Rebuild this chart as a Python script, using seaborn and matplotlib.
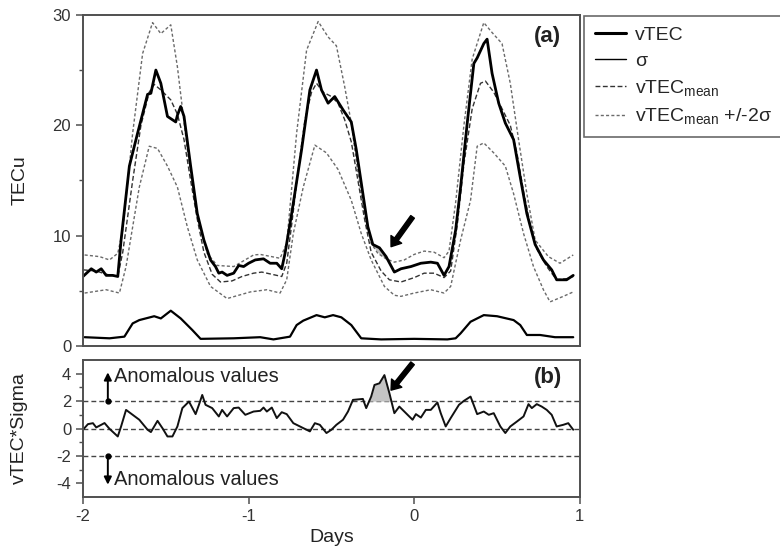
import numpy as np
import matplotlib
matplotlib.use("Agg")
import matplotlib.pyplot as plt
from matplotlib.lines import Line2D
import seaborn as sns

# values (x in days)
vtec_days = [-2.0, -1.95, -1.92, -1.89, -1.86, -1.82, -1.79, -1.77, -1.72, -1.67,
             -1.61, -1.59, -1.56, -1.53, -1.49, -1.44, -1.43, -1.41, -1.39, -1.35,
             -1.31, -1.27, -1.23, -1.20, -1.18, -1.16, -1.13, -1.09, -1.06, -1.03,
             -1.00, -0.96, -0.91, -0.87, -0.83, -0.80, -0.78, -0.74, -0.68, -0.63,
             -0.59, -0.56, -0.52, -0.48, -0.43, -0.38, -0.35, -0.31, -0.28, -0.25,
             -0.21, -0.17, -0.12, -0.08, -0.02, 0.04, 0.10, 0.14, 0.18, 0.21,
             0.25, 0.28, 0.32, 0.36, 0.38, 0.42, 0.44, 0.47, 0.51, 0.55,
             0.60, 0.64, 0.68, 0.73, 0.78, 0.83, 0.86, 0.92, 0.96]
vtec = [6.3, 7.0, 6.7, 7.0, 6.4, 6.4, 6.3, 9.6, 16.3, 19.3,
        22.8, 22.9, 25.0, 23.8, 20.8, 20.3, 20.9, 21.7, 20.8, 16.3,
        12.0, 9.6, 7.8, 7.2, 6.6, 6.7, 6.4, 6.6, 7.3, 7.2,
        7.5, 7.8, 7.9, 7.5, 7.5, 7.0, 8.4, 12.0, 17.8, 23.2,
        25.0, 23.2, 22.0, 22.6, 21.4, 20.3, 17.8, 13.8, 10.8, 9.2,
        8.9, 8.1, 6.7, 7.0, 7.2, 7.5, 7.6, 7.5, 6.4, 7.2,
        10.5, 14.4, 20.2, 25.6, 26.1, 27.4, 27.8, 24.7, 22.0, 20.2,
        18.7, 15.3, 12.0, 9.2, 7.8, 6.9, 6.0, 6.0, 6.4]

mean_days = [-2.0, -1.92, -1.86, -1.79, -1.76, -1.70, -1.65, -1.60, -1.57, -1.53,
             -1.47, -1.43, -1.39, -1.35, -1.31, -1.27, -1.22, -1.17, -1.10, -1.04,
             -0.97, -0.92, -0.86, -0.80, -0.77, -0.74, -0.70, -0.66, -0.62, -0.59,
             -0.55, -0.50, -0.46, -0.42, -0.38, -0.34, -0.30, -0.26, -0.20, -0.15,
             -0.08, 0.0, 0.06, 0.12, 0.18, 0.22, 0.26, 0.30, 0.35, 0.40,
             0.43, 0.48, 0.53, 0.58, 0.62, 0.66, 0.70, 0.74, 0.80, 0.86,
             0.92, 0.96]
vtec_mean = [6.9, 6.8, 6.5, 6.3, 8.5, 15.0, 20.0, 23.0, 23.7, 23.2,
             22.3, 21.0, 18.7, 15.0, 11.5, 8.5, 6.5, 5.8, 5.9, 6.3,
             6.6, 6.7, 6.5, 6.3, 7.5, 11.0, 16.0, 20.5, 23.0, 23.8,
             23.0, 22.6, 22.0, 20.5, 18.5, 15.0, 11.5, 8.5, 6.8, 6.0,
             5.8, 6.2, 6.6, 6.6, 6.2, 6.8, 11.0, 16.5, 21.5, 23.8,
             24.0, 23.0, 21.5, 20.0, 17.5, 14.0, 11.0, 8.8, 7.2, 6.0,
             6.1, 6.3]

upper_days = [-1.99, -1.90, -1.84, -1.79, -1.76, -1.70, -1.64, -1.58, -1.53, -1.47,
              -1.43, -1.37, -1.31, -1.25, -1.19, -1.09, -0.97, -0.93, -0.81, -0.77,
              -0.71, -0.65, -0.58, -0.52, -0.47, -0.42, -0.38, -0.34, -0.30, -0.26,
              -0.22, -0.17, -0.12, -0.06, 0.0, 0.06, 0.12, 0.18, 0.21, 0.25,
              0.30, 0.35, 0.42, 0.47, 0.53, 0.58, 0.63, 0.68, 0.73, 0.81,
              0.88, 0.96]
upper = [8.25, 8.1, 7.8, 8.4, 10.5, 19.3, 26.5, 29.3, 28.3, 29.1,
         25.3, 17.8, 11.7, 8.4, 7.3, 7.2, 8.25, 8.3, 7.95, 9.3,
         19.3, 26.8, 29.4, 28.0, 27.2, 23.5, 20.2, 15.7, 12.0, 9.3,
         8.4, 7.9, 7.6, 7.8, 8.3, 8.6, 8.5, 8.0, 8.6, 13.0,
         20.0, 26.0, 29.3, 28.4, 27.4, 23.8, 18.7, 13.8, 9.6, 8.1,
         7.5, 8.25]

lower_days = [-1.99, -1.86, -1.78, -1.74, -1.70, -1.66, -1.60, -1.55, -1.49, -1.43,
              -1.37, -1.31, -1.23, -1.13, -0.99, -0.89, -0.81, -0.77, -0.73, -0.67,
              -0.60, -0.53, -0.46, -0.38, -0.32, -0.26, -0.18, -0.12, -0.08, 0.0,
              0.10, 0.18, 0.22, 0.28, 0.34, 0.38, 0.42, 0.48, 0.55, 0.60,
              0.66, 0.72, 0.78, 0.82, 0.90, 0.96]
lower = [4.8, 5.1, 4.8, 7.2, 10.8, 14.4, 18.1, 17.9, 16.3, 14.4,
         10.8, 7.8, 5.4, 4.3, 4.9, 5.1, 4.8, 6.0, 10.2, 14.4,
         18.2, 17.5, 16.0, 13.2, 10.2, 7.8, 5.4, 4.6, 4.5, 4.8,
         5.1, 4.8, 5.4, 9.6, 13.2, 18.1, 18.4, 17.5, 16.3, 13.8,
         10.2, 7.2, 5.1, 4.0, 4.5, 4.9]

sigma_days = [-1.99, -1.84, -1.75, -1.70, -1.66, -1.57, -1.53, -1.47, -1.41, -1.34,
              -1.29, -1.09, -0.93, -0.85, -0.75, -0.71, -0.67, -0.59, -0.54, -0.49,
              -0.44, -0.38, -0.32, -0.2, 0.0, 0.2, 0.25, 0.28, 0.34, 0.42,
              0.50, 0.60, 0.64, 0.68, 0.76, 0.85, 0.96]
sigma = [0.8, 0.7, 0.85, 2.05, 2.35, 2.7, 2.5, 3.2, 2.5, 1.45,
         0.65, 0.7, 0.8, 0.6, 0.85, 1.9, 2.3, 2.8, 2.6, 2.8,
         2.6, 1.9, 0.7, 0.6, 0.65, 0.6, 0.7, 1.15, 2.2, 2.8,
         2.7, 2.35, 1.9, 1.0, 1.0, 0.8, 0.8]

ratio_days = [-2.0, -1.97, -1.94, -1.92, -1.89, -1.87, -1.84, -1.79, -1.77, -1.74,
              -1.70, -1.66, -1.61, -1.59, -1.55, -1.52, -1.49, -1.46, -1.43, -1.40,
              -1.36, -1.32, -1.30, -1.28, -1.26, -1.22, -1.18, -1.16, -1.13, -1.09,
              -1.06, -1.02, -0.97, -0.93, -0.91, -0.89, -0.86, -0.83, -0.80, -0.77,
              -0.73, -0.69, -0.63, -0.60, -0.57, -0.53, -0.50, -0.47, -0.43, -0.40,
              -0.37, -0.31, -0.29, -0.26, -0.24, -0.21, -0.18, -0.15, -0.12, -0.09,
              -0.05, -0.01, 0.01, 0.04, 0.07, 0.10, 0.14, 0.16, 0.19, 0.22,
              0.27, 0.30, 0.34, 0.38, 0.42, 0.45, 0.48, 0.52, 0.55, 0.58,
              0.62, 0.66, 0.69, 0.71, 0.74, 0.77, 0.80, 0.83, 0.86, 0.90,
              0.93, 0.96]
ratio = [-0.09, 0.32, 0.39, 0.08, 0.27, 0.4, -0.02, -0.58, 0.15, 1.36,
         1.0, 0.64, -0.09, -0.26, 0.56, 0.02, -0.58, -0.58, 0.15, 1.49,
         1.97, 1.05, 1.73, 2.45, 1.73, 1.49, 0.88, 1.36, 0.88, 1.49,
         1.53, 1.0, 1.24, 1.29, 1.53, 1.24, 1.53, 0.76, 1.19, 1.05,
         0.39, 0.15, -0.21, 0.39, 0.27, -0.33, -0.09, 0.27, 0.64, 1.24,
         2.09, 2.16, 1.49, 2.33, 3.18, 3.3, 3.9, 2.58, 1.12, 1.6,
         1.12, 0.64, 1.05, 0.8, 1.36, 1.36, 1.9, 1.12, 0.15, 0.76,
         1.73, 2.02, 2.33, 1.05, 1.24, 1.0, 1.12, 0.15, -0.33, 0.15,
         0.51, 0.88, 1.78, 1.49, 1.78, 1.6, 1.36, 1.0, 0.15, 0.27,
         0.39, -0.09]

thresholds = [2, 0, -2]
anomaly_window = (-0.3, -0.1)

sns.set_style("ticks")
plt.rcParams['font.family'] = ['Liberation Sans', 'DejaVu Sans']
plt.rcParams['mathtext.fontset'] = 'custom'
plt.rcParams['mathtext.rm'] = 'Liberation Sans'
plt.rcParams['mathtext.it'] = 'Liberation Sans'
plt.rcParams['axes.unicode_minus'] = False

spine_col = '#505050'
band_col = '#6a6a6a'

fig = plt.figure(figsize=(7.8, 5.51), dpi=100)
ax1 = fig.add_axes([0.1064, 0.372, 0.637, 0.601])
ax2 = fig.add_axes([0.1064, 0.098, 0.637, 0.2486])

# --- panel (a)
sns.lineplot(x=upper_days, y=upper, ax=ax1, color=band_col, lw=1.0)
ax1.lines[-1].set_dashes((2.2, 1.6))
sns.lineplot(x=lower_days, y=lower, ax=ax1, color=band_col, lw=1.0)
ax1.lines[-1].set_dashes((2.2, 1.6))
sns.lineplot(x=mean_days, y=vtec_mean, ax=ax1, color='#333333', lw=1.0)
ax1.lines[-1].set_dashes((3.5, 1.8))
sns.lineplot(x=sigma_days, y=sigma, ax=ax1, color='black', lw=1.6)
sns.lineplot(x=vtec_days, y=vtec, ax=ax1, color='black', lw=2.0)

vd = np.array(vtec_days)
vv = np.array(vtec)
up_on_v = np.interp(vd, upper_days, upper)
win = (vd > anomaly_window[0]) & (vd < anomaly_window[1])
ax1.fill_between(vd, up_on_v, vv, where=win & (vv > up_on_v), interpolate=True,
                 color='#c4c4c4', lw=0, zorder=1)

ax1.annotate('', xy=(-0.14, 9.0), xytext=(-0.01, 11.7),
             arrowprops=dict(facecolor='black', edgecolor='black', width=3.2,
                             headwidth=9.5, headlength=6.5, shrink=0))
ax1.text(0.935, 0.935, '(a)', transform=ax1.transAxes, ha='center', va='center',
         fontsize=16, fontweight='bold', color='#222222')

ax1.set_xlim(-2, 1)
ax1.set_ylim(0, 30)
ax1.set_yticks([0, 10, 20, 30])
ax1.set_yticks([5, 15, 25], minor=True)
ax1.tick_params(axis='x', bottom=False, labelbottom=False)
ax1.set_ylabel('TECu', fontsize=14, color='#222222')

# --- panel (b)
for t in thresholds:
    ax2.axhline(t, color='#444444', lw=1.0, dashes=(3.5, 2.2), zorder=1)
sns.lineplot(x=ratio_days, y=ratio, ax=ax2, color='#111111', lw=1.4)

rd = np.array(ratio_days)
rv = np.array(ratio)
win2 = (rd > anomaly_window[0]) & (rd < anomaly_window[1])
ax2.fill_between(rd, 2, rv, where=win2 & (rv > 2), interpolate=True,
                 color='#c4c4c4', lw=0, zorder=1)

ax2.annotate('', xy=(-0.14, 2.8), xytext=(-0.01, 4.76),
             arrowprops=dict(facecolor='black', edgecolor='black', width=3.2,
                             headwidth=9.5, headlength=6.5, shrink=0),
             annotation_clip=False)

arrow_x = -1.85
for base, tip, ty in [(2, 4.1, 3.8), (-2, -4.1, -3.75)]:
    ax2.annotate('', xy=(arrow_x, tip), xytext=(arrow_x, base),
                 arrowprops=dict(arrowstyle='-|>', color='black', lw=1.4,
                                 mutation_scale=11, shrinkA=0, shrinkB=0))
    ax2.plot([arrow_x], [base], 'o', color='black', ms=3.5)
    ax2.text(-1.815, ty, 'Anomalous values', fontsize=14.5, ha='left',
             va='center', color='#222222')

ax2.text(0.935, 0.876, '(b)', transform=ax2.transAxes, ha='center', va='center',
         fontsize=16, fontweight='bold', color='#222222')

ax2.set_xlim(-2, 1)
ax2.set_ylim(-5, 5)
ax2.set_xticks([-2, -1, 0, 1])
ax2.set_yticks([-4, -2, 0, 2, 4])
ax2.set_yticks([-3, -1, 1, 3], minor=True)
ax2.set_xlabel('Days', fontsize=14, color='#222222')
ax2.set_ylabel('vTEC*Sigma', fontsize=14, color='#222222')

for ax in (ax1, ax2):
    ax.set_facecolor('white')
    for s in ax.spines.values():
        s.set_visible(True)
        s.set_color(spine_col)
        s.set_linewidth(1.4)
    ax.tick_params(which='major', length=5, width=1.1, color=spine_col,
                   labelsize=12, labelcolor='#333333', direction='out')
    ax.tick_params(which='minor', length=3, width=1.0, color=spine_col,
                   direction='out')
    ax.yaxis.set_label_coords(-0.11, 0.5)

handles = [
    Line2D([], [], color='black', lw=2.2),
    Line2D([], [], color='black', lw=1.0),
    Line2D([], [], color='#333333', lw=1.0, dashes=(3.5, 1.8)),
    Line2D([], [], color=band_col, lw=1.0, dashes=(2.2, 1.6)),
]
labels = ['vTEC', r'$\sigma$', r'vTEC$_{\mathrm{mean}}$', r'vTEC$_{\mathrm{mean}}$ +/-2$\sigma$']
leg = fig.legend(handles, labels, loc='upper left', bbox_to_anchor=(0.7487, 0.971),
                 borderaxespad=0, frameon=True, fancybox=False, edgecolor='#444444',
                 fontsize=14, handlelength=1.6, labelspacing=0.42, borderpad=0.55,
                 handletextpad=0.45)
leg.get_frame().set_linewidth(1.2)

fig.savefig('out.png', dpi=100, facecolor='white')
